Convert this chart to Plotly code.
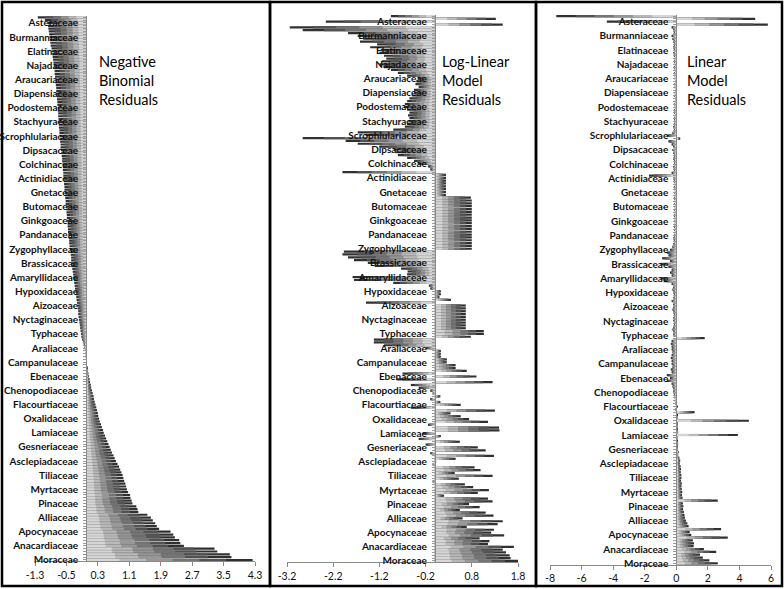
import plotly.graph_objects as go

W, H = 784, 589

# Category labels shown on the axis (top to bottom), every 5th family
LABELS = ["Asteraceae", "Burmanniaceae", "Elatinaceae", "Najadaceae", "Araucariaceae",
          "Diapensiaceae", "Podostemaceae", "Stachyuraceae", "Scrophlulariaceae", "Dipsacaceae",
          "Colchinaceae", "Actinidiaceae", "Gnetaceae", "Butomaceae", "Ginkgoaceae",
          "Pandanaceae", "Zygophyllaceae", "Brassicaceae", "Amaryllidaceae", "Hypoxidaceae",
          "Aizoaceae", "Nyctaginaceae", "Typhaceae", "Araliaceae", "Campanulaceae",
          "Ebenaceae", "Chenopodiaceae", "Flacourtiaceae", "Oxalidaceae", "Lamiaceae",
          "Gesneriaceae", "Asclepiadaceae", "Tiliaceae", "Myrtaceae", "Pinaceae",
          "Alliaceae", "Apocynaceae", "Anacardiaceae", "Moraceae"]

# Residuals per family, listed top to bottom (same family order in all panels)
NEG_BINOMIAL = [
    -1.23, -1.05,
    -0.98, -0.97, -0.96, -0.95, -0.94,
    -0.93, -0.92, -0.91, -0.90, -0.88,
    -0.87, -0.86, -0.85, -0.84, -0.83,
    -0.82, -0.81, -0.80, -0.80, -0.79,
    -0.78, -0.78, -0.77, -0.76, -0.76,
    -0.75, -0.74, -0.74, -0.73, -0.73,
    -0.72, -0.72, -0.71, -0.71, -0.70,
    -0.70, -0.69, -0.69, -0.68, -0.68,
    -0.67, -0.66, -0.66, -0.65, -0.65,
    -0.64, -0.63, -0.62, -0.61, -0.61,
    -0.60, -0.59, -0.59, -0.58, -0.58,
    -0.57, -0.56, -0.56, -0.55, -0.55,
    -0.54, -0.53, -0.53, -0.52, -0.52,
    -0.51, -0.50, -0.50, -0.49, -0.49,
    -0.48, -0.47, -0.47, -0.46, -0.46,
    -0.45, -0.44, -0.43, -0.43, -0.42,
    -0.41, -0.40, -0.39, -0.38, -0.38,
    -0.37, -0.36, -0.35, -0.34, -0.33,
    -0.32, -0.31, -0.30, -0.29, -0.28,
    -0.27, -0.26, -0.25, -0.24, -0.23,
    -0.22, -0.21, -0.20, -0.20, -0.19,
    -0.18, -0.17, -0.16, -0.15, -0.14,
    -0.13, -0.12, -0.10, -0.08, -0.06,
    -0.04, -0.03, -0.02, -0.01, 0.00,
    0.01, 0.02, 0.03, 0.05, 0.06,
    0.07, 0.09, 0.10, 0.12, 0.13,
    0.15, 0.17, 0.19, 0.20, 0.22,
    0.24, 0.26, 0.28, 0.30, 0.31,
    0.33, 0.35, 0.38, 0.40, 0.43,
    0.45, 0.48, 0.51, 0.54, 0.57,
    0.60, 0.63, 0.66, 0.70, 0.73,
    0.76, 0.80, 0.84, 0.87, 0.90,
    0.93, 0.95, 0.97, 1.00, 1.02,
    1.04, 1.07, 1.12, 1.13, 1.16,
    1.18, 1.28, 1.31, 1.33, 1.56,
    1.65, 1.70, 1.76, 1.80, 1.86,
    2.15, 2.22, 2.26, 2.37, 2.40,
    2.49, 3.27, 3.34, 3.66, 3.70,
    4.24,
]

LOG_LINEAR = [
    -0.95, 1.32,
    -2.36, 1.47, -3.14, -2.86, -1.88,
    -1.67, -1.55, -1.62, -1.25, -1.40,
    -1.17, -1.20, -1.10, -1.05, -1.15,
    -1.20, -1.10, -0.95, -0.80, -0.60,
    -0.37, -0.40, -0.42, -0.35, -0.45,
    -0.45, -0.50, -0.55, -0.60, -0.65,
    -0.67, -0.60, -0.55, -0.58, -0.55,
    -0.57, -0.60, -0.65, -0.90, -1.67,
    -1.50, -2.86, -1.93, -1.67, -1.20,
    -0.89, -0.85, -0.80, -0.60, -0.45,
    -0.37, -0.15, -0.10, -2.00, 0.24,
    0.24, 0.24, 0.24, 0.24, 0.24,
    0.24, 0.24, 0.78, 0.80, 0.80,
    0.80, 0.80, 0.80, 0.80, 0.80,
    0.80, 0.80, 0.80, 0.80, 0.80,
    0.80, 0.80, 0.80, 0.80, 0.80,
    0.80, -1.97, -2.00, -1.88, -1.75,
    -1.45, -1.30, -0.73, -0.59, -0.60,
    -1.78, -1.75, -0.90, -0.13, -0.10,
    0.13, 0.13, 0.10, 0.35, -1.49,
    0.67, 0.67, 0.67, 0.67, 0.67,
    0.67, 0.67, 0.67, 0.67, 1.06,
    1.06, 0.78, -1.32, -1.32, -1.10,
    -0.20, 0.13, 0.13, 0.13, 0.26,
    0.26, 0.45, 0.45, 0.69, -0.70,
    0.90, -0.83, 1.25, -0.52, -0.35,
    -0.10, -0.05, 0.12, -0.10, 0.12,
    0.56, -0.52, 1.30, 0.34, 0.56,
    0.74, 1.15, -0.15, 1.39, 1.40,
    -0.26, 0.13, -0.35, 0.54, -0.20,
    0.93, 1.10, -0.10, 1.28, 0.45,
    0.03, -0.05, 0.86, 0.99, 0.43,
    1.25, 0.52, -0.05, 0.65, 0.83,
    1.17, 0.93, 0.20, 1.15, 1.25,
    0.74, 0.97, 0.54, 1.10, 1.27,
    0.60, 1.47, 1.36, 0.69, 1.28,
    1.22, 1.50, 0.97, 1.18, 1.15,
    1.71, 1.47, 1.54, 1.62, 1.64,
    1.80,
]

LINEAR = [
    -7.6, 5.0,
    -4.4, 5.8, -0.3, -0.2, -0.15,
    -0.3, -0.25, -0.2, -0.15, -0.2,
    -0.15, -0.2, -0.15, -0.1, -0.15,
    -0.1, -0.15, -0.1, -0.12, -0.1,
    -0.1, -0.08, -0.12, -0.1, -0.08,
    -0.1, -0.12, -0.08, -0.1, -0.12,
    -0.1, -0.15, -0.12, -0.1, -0.15,
    -0.12, -0.15, -0.2, -0.15, -0.25,
    -0.6, 0.25, -0.5, -0.3, -0.2,
    -0.25, -0.2, -0.15, -0.2, -0.15,
    -0.15, -0.2, -0.15, -0.3, -1.73,
    -0.2, -0.15, -0.1, -0.15, -0.1,
    -0.12, -0.1, -0.15, -0.1, -0.12,
    -0.1, -0.12, -0.1, -0.15, -0.1,
    -0.12, -0.1, -0.15, -0.12, -0.1,
    -0.15, -0.2, -0.15, -0.2, -0.25,
    -0.4, -0.6, -0.5, -0.9, -0.4,
    -1.0, -0.5, -0.3, -0.4, -0.3,
    -1.0, -0.8, -0.3, -0.2, -0.25,
    -0.2, -0.15, -0.2, -0.3, -0.2,
    -0.2, -0.25, -0.2, -0.15, -0.2,
    -0.2, -0.15, -0.2, -0.25, -0.2,
    -0.2, 1.8, -0.3, -0.35, -0.3,
    -0.3, -0.25, -0.3, -0.35, -0.3,
    -0.3, -0.25, -0.35, -0.3, -0.6,
    -0.4, -0.6, -0.3, -0.25, -0.2,
    -0.2, -0.15, -0.1, -0.1, -0.05,
    0.05, -0.05, 1.16, 0.05, 0.1,
    4.6, 0.08, 0.1, 0.05, 0.12,
    3.9, 0.1, 0.05, 0.12, 0.08,
    0.10, 0.15, 0.12, 0.20, 0.25,
    0.22, 0.28, 0.30, 0.28, 0.32,
    0.33, 0.30, 0.35, 0.33, 0.35,
    0.38, 0.36, 0.40, 2.63, 0.42,
    0.45, 0.43, 0.48, 0.52, 0.55,
    0.62, 0.70, 0.78, 2.84, 0.85,
    0.95, 3.26, 1.05, 1.12, 1.10,
    1.75, 2.53, 1.50, 1.68, 2.10,
    2.63,
]

TITLES = ["Negative<br>Binomial<br>Residuals",
          "Log-Linear<br>Model<br>Residuals",
          "Linear<br>Model<br>Residuals"]

NB_TICKS = [-1.3, -0.5, 0.3, 1.1, 1.9, 2.7, 3.5, 4.3]
LL_TICKS = [-3.2, -2.2, -1.2, -0.2, 0.8, 1.8]
LM_TICKS = [-8, -6, -4, -2, 0, 2, 4, 6]

N = len(NEG_BINOMIAL)
ypos = list(range(N - 1, -1, -1))
label_idx = [N - 3 - 5 * i for i in range(len(LABELS))]
ticktext = [""] * N
for lab, i in zip(LABELS, label_idx):
    ticktext[i] = lab

panels = [
    dict(vals=NEG_BINOMIAL, ticks=NB_TICKS, fmt="{:.1f}", xpix=(35, 255), ypix=(15.9, 561.4),
         title_x=97, frame=(2, 270)),
    dict(vals=LOG_LINEAR, ticks=LL_TICKS, fmt="{:.1f}", xpix=(287, 518), ypix=(14.6, 562.4),
         title_x=440, frame=(270, 536)),
    dict(vals=LINEAR, ticks=LM_TICKS, fmt="{:d}", xpix=(550, 771), ypix=(14.6, 564.7),
         title_x=685, frame=(536, 782)),
]

# stepped gradient: long dark bar underneath, progressively shorter lighter bars on top
SHADES = [(1.0, "#303030"), (0.84, "#525252"), (0.68, "#747474"),
          (0.52, "#969696"), (0.36, "#b8b8b8"), (0.2, "#d6d6d6")]

fig = go.Figure()
layout = dict(width=W, height=H, margin=dict(l=0, r=0, t=0, b=0, autoexpand=False),
              paper_bgcolor="white", plot_bgcolor="rgba(0,0,0,0)",
              barmode="overlay", bargap=0.22, showlegend=False)

shapes = []
annotations = []
tickfont = dict(family="Lato", size=10.5, color="#111111")
labfont = dict(family="Lato", size=10, color="#111111", weight="bold")

for k, p in enumerate(panels):
    sfx = "" if k == 0 else str(k + 1)
    xa, ya = "x" + sfx, "y" + sfx
    for frac, col in SHADES:
        fig.add_trace(go.Bar(
            x=[v * frac for v in p["vals"]], y=ypos, orientation="h",
            marker=dict(color=col, line=dict(width=0)),
            xaxis=xa, yaxis=ya, hoverinfo="skip"))
    x0, x1 = p["ticks"][0], p["ticks"][-1]
    dx0, dx1 = p["xpix"][0] / W, p["xpix"][1] / W
    zero_pos = dx0 + (0 - x0) / (x1 - x0) * (dx1 - dx0)
    layout["xaxis" + sfx] = dict(
        domain=[dx0, dx1], range=[x0, x1], anchor=ya, automargin=False,
        tickvals=p["ticks"], ticktext=[p["fmt"].format(t) for t in p["ticks"]],
        showline=True, linecolor="#8a8a8a", linewidth=1,
        ticks="outside", ticklen=4, tickcolor="#8a8a8a",
        showgrid=False, zeroline=False, tickfont=tickfont)
    layout["yaxis" + sfx] = dict(
        domain=[1 - p["ypix"][1] / H, 1 - p["ypix"][0] / H], range=[-0.5, N - 0.5],
        anchor="free", position=zero_pos, automargin=False,
        tickvals=list(range(N)), ticktext=ticktext,
        showline=True, linecolor="#8a8a8a", linewidth=1,
        ticks="outside", ticklen=3, tickcolor="#9a9a9a", tickwidth=1,
        ticklabelstandoff=3,
        showgrid=False, zeroline=False, tickfont=labfont)
    f0, f1 = p["frame"]
    shapes.append(dict(type="rect", xref="paper", yref="paper",
                       x0=f0 / W, x1=f1 / W, y0=1 - 586 / H, y1=1 - 2 / H,
                       line=dict(color="black", width=2.5), fillcolor="rgba(0,0,0,0)"))
    annotations.append(dict(text=TITLES[k], xref="paper", yref="paper",
                            x=p["title_x"] / W, y=1 - 80.5 / H,
                            xanchor="left", yanchor="middle", align="left", showarrow=False,
                            font=dict(family="Lato", size=14.5, color="#000000")))

layout["shapes"] = shapes
layout["annotations"] = annotations
fig.update_layout(**layout)
fig.write_html("out.html", config={"displayModeBar": False},
               post_script="document.body.style.margin='0px';document.body.style.overflow='hidden';")
